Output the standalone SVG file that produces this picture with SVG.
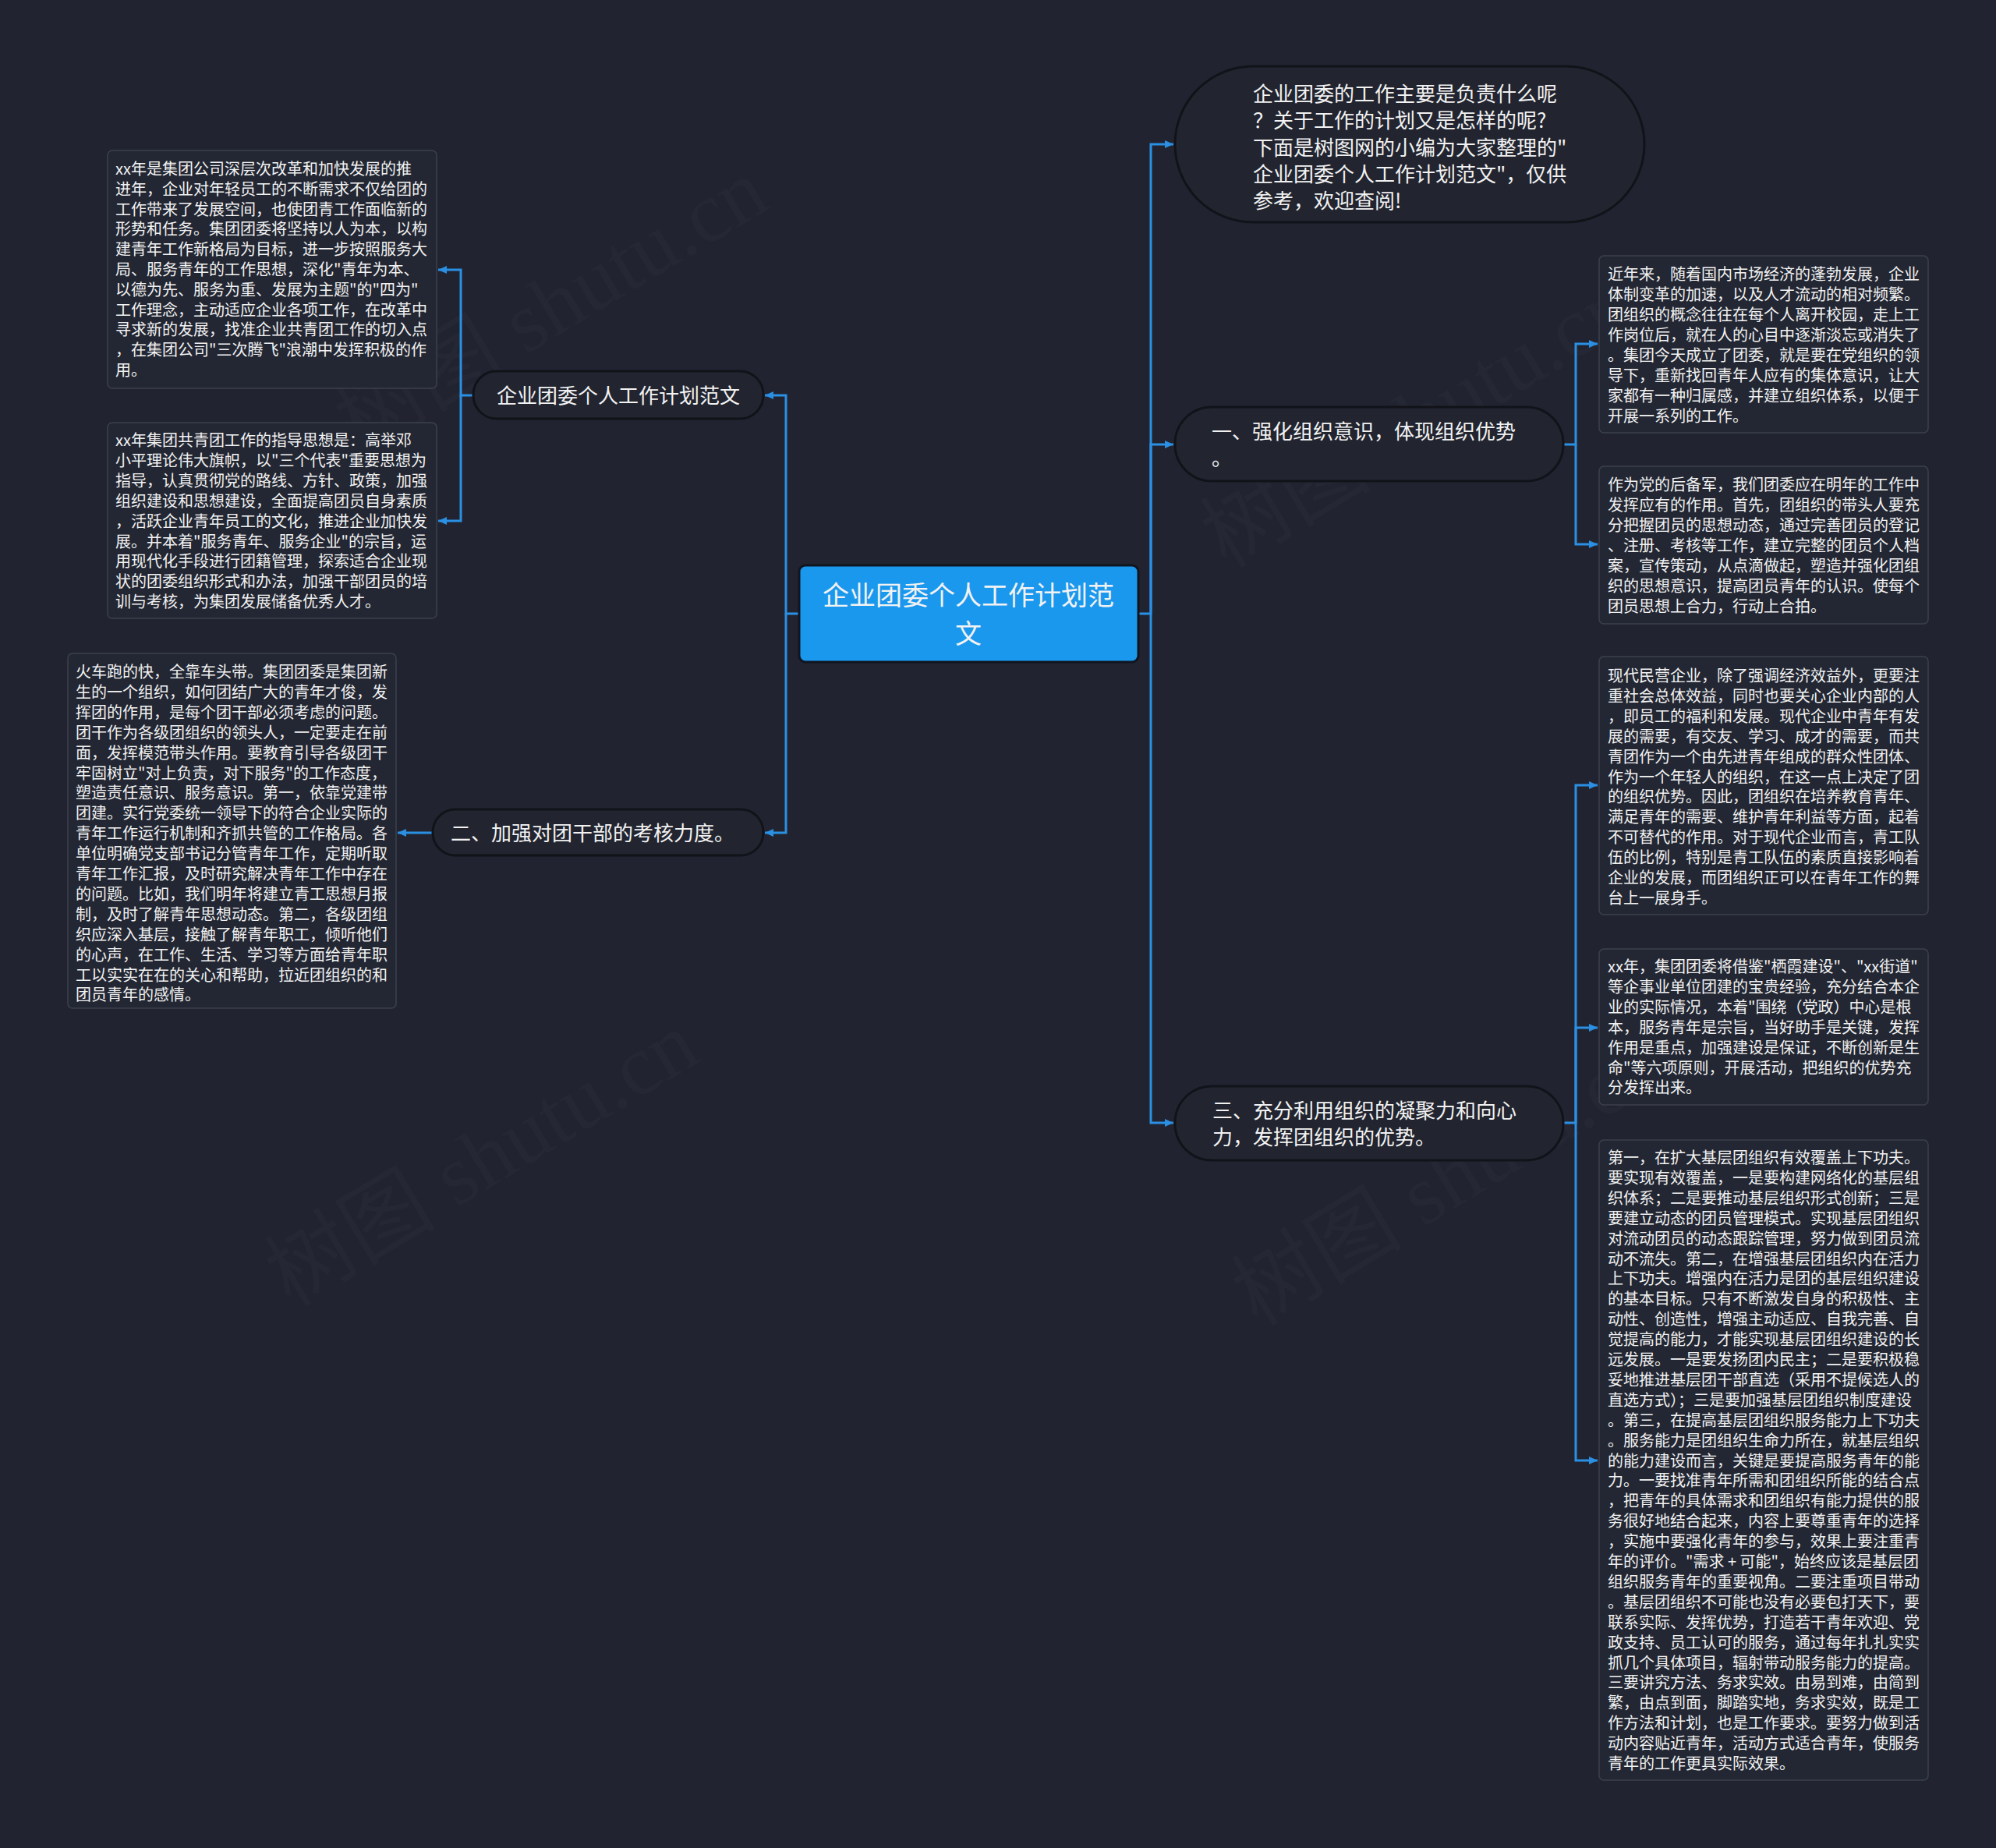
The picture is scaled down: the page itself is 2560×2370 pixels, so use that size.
<svg xmlns="http://www.w3.org/2000/svg" width="2560" height="2370" viewBox="0 0 2560 2370">
<defs>
<style>
.bg{fill:#212430}
.box{fill:#232733;stroke:#3c404c;stroke-width:1.5}
.pill{fill:#222530;stroke:#111319;stroke-width:3}
.root{fill:#1a98ee;stroke:#10151f;stroke-width:3}
.t{font-family:"Noto Sans CJK SC","Liberation Sans",sans-serif;fill:#f2f2f2}
.s{font-size:20px}
.m{font-size:26px}
.r{font-size:34px}
.conn path{fill:none;stroke:#2b8fe3;stroke-width:3}
.wm{font-family:"Liberation Serif","Noto Sans CJK SC",serif;font-size:110px;fill:#ffffff;fill-opacity:0.018}
</style>
<marker id="ah" markerWidth="12" markerHeight="12" refX="11" refY="6" orient="auto" markerUnits="userSpaceOnUse">
<path d="M0,1 L11,6 L0,11 z" fill="#2b8fe3"/>
</marker>
</defs>
<rect class="bg" x="0" y="0" width="2560" height="2370"/>

<g id="watermarks">
<text class="wm" transform="translate(726,424) rotate(-31)" text-anchor="middle">树图 shutu.cn</text>
<text class="wm" transform="translate(637,1518) rotate(-31)" text-anchor="middle">树图 shutu.cn</text>
<text class="wm" transform="translate(1837,571) rotate(-31)" text-anchor="middle">树图 shutu.cn</text>
<text class="wm" transform="translate(1877,1543) rotate(-31)" text-anchor="middle">树图 shutu.cn</text>
</g>

<g id="connectors" class="conn">
<path d="M1460,787 H1476 V185 H1505" marker-end="url(#ah)"/>
<path d="M1476,787 V570 H1505" marker-end="url(#ah)"/>
<path d="M1476,787 V1440 H1505" marker-end="url(#ah)"/>
<path d="M1025,787 H1008 V507 H981" marker-end="url(#ah)"/>
<path d="M1008,787 V1068 H981" marker-end="url(#ah)"/>
<path d="M607,507 H591 V346 H562" marker-end="url(#ah)"/>
<path d="M591,507 V668 H562" marker-end="url(#ah)"/>
<path d="M555,1068 H510" marker-end="url(#ah)"/>
<path d="M2005,570 H2021 V441 H2049" marker-end="url(#ah)"/>
<path d="M2021,570 V698 H2049" marker-end="url(#ah)"/>
<path d="M2005,1440 H2021 V1007 H2049" marker-end="url(#ah)"/>
<path d="M2021,1440 V1318 H2049" marker-end="url(#ah)"/>
<path d="M2021,1440 V1873 H2049" marker-end="url(#ah)"/>
</g>

<g id="root">
<rect class="root" x="1025" y="725" width="435" height="124" rx="8"/>
<text class="t r" text-anchor="middle"><tspan x="1242" y="776">企业团委个人工作计划范</tspan><tspan x="1242" y="825">文</tspan></text>
</g>

<g id="intro">
<rect class="pill" x="1507" y="85" width="602" height="200" rx="100"/>
<text class="t m"><tspan x="1607" y="130">企业团委的工作主要是负责什么呢</tspan><tspan x="1607" y="164.3">？关于工作的计划又是怎样的呢?</tspan><tspan x="1607" y="198.6">下面是树图网的小编为大家整理的"</tspan><tspan x="1607" y="232.9">企业团委个人工作计划范文"，仅供</tspan><tspan x="1607" y="267.2">参考，欢迎查阅!</tspan></text>
</g>

<g id="n1">
<rect class="pill" x="1507" y="522" width="498" height="95" rx="47"/>
<text class="t m"><tspan x="1554" y="563">一、强化组织意识，体现组织优势</tspan><tspan x="1554" y="597">。</tspan></text>
</g>

<g id="n3">
<rect class="pill" x="1507" y="1393" width="498" height="95" rx="47"/>
<text class="t m"><tspan x="1555" y="1434">三、充分利用组织的凝聚力和向心</tspan><tspan x="1555" y="1468">力，发挥团组织的优势。</tspan></text>
</g>

<g id="nL1">
<rect class="pill" x="607" y="476" width="372" height="61" rx="30"/>
<text class="t m" x="793" y="517" text-anchor="middle">企业团委个人工作计划范文</text>
</g>

<g id="n2">
<rect class="pill" x="555" y="1038" width="424" height="59" rx="29"/>
<text class="t m" x="760" y="1078" text-anchor="middle">二、加强对团干部的考核力度。</text>
</g>

<g id="boxL1">
<rect class="box" x="138" y="193" width="422" height="305" rx="6"/>
<text class="t s"><tspan x="148" y="224">xx年是集团公司深层次改革和加快发展的推</tspan><tspan x="148" dy="25.8">进年，企业对年轻员工的不断需求不仅给团的</tspan><tspan x="148" dy="25.8">工作带来了发展空间，也使团青工作面临新的</tspan><tspan x="148" dy="25.8">形势和任务。集团团委将坚持以人为本，以构</tspan><tspan x="148" dy="25.8">建青年工作新格局为目标，进一步按照服务大</tspan><tspan x="148" dy="25.8">局、服务青年的工作思想，深化"青年为本、</tspan><tspan x="148" dy="25.8">以德为先、服务为重、发展为主题"的"四为"</tspan><tspan x="148" dy="25.8">工作理念，主动适应企业各项工作，在改革中</tspan><tspan x="148" dy="25.8">寻求新的发展，找准企业共青团工作的切入点</tspan><tspan x="148" dy="25.8">，在集团公司"三次腾飞"浪潮中发挥积极的作</tspan><tspan x="148" dy="25.8">用。</tspan></text>
</g>

<g id="boxL2">
<rect class="box" x="138" y="542" width="422" height="251" rx="6"/>
<text class="t s"><tspan x="148" y="572">xx年集团共青团工作的指导思想是：高举邓</tspan><tspan x="148" dy="25.9">小平理论伟大旗帜，以"三个代表"重要思想为</tspan><tspan x="148" dy="25.9">指导，认真贯彻党的路线、方针、政策，加强</tspan><tspan x="148" dy="25.9">组织建设和思想建设，全面提高团员自身素质</tspan><tspan x="148" dy="25.9">，活跃企业青年员工的文化，推进企业加快发</tspan><tspan x="148" dy="25.9">展。并本着"服务青年、服务企业"的宗旨，运</tspan><tspan x="148" dy="25.9">用现代化手段进行团籍管理，探索适合企业现</tspan><tspan x="148" dy="25.9">状的团委组织形式和办法，加强干部团员的培</tspan><tspan x="148" dy="25.9">训与考核，为集团发展储备优秀人才。</tspan></text>
</g>

<g id="boxL3">
<rect class="box" x="87" y="838" width="421" height="455" rx="6"/>
<text class="t s"><tspan x="97" y="869">火车跑的快，全靠车头带。集团团委是集团新</tspan><tspan x="97" dy="25.9">生的一个组织，如何团结广大的青年才俊，发</tspan><tspan x="97" dy="25.9">挥团的作用，是每个团干部必须考虑的问题。</tspan><tspan x="97" dy="25.9">团干作为各级团组织的领头人，一定要走在前</tspan><tspan x="97" dy="25.9">面，发挥模范带头作用。要教育引导各级团干</tspan><tspan x="97" dy="25.9">牢固树立"对上负责，对下服务"的工作态度，</tspan><tspan x="97" dy="25.9">塑造责任意识、服务意识。第一，依靠党建带</tspan><tspan x="97" dy="25.9">团建。实行党委统一领导下的符合企业实际的</tspan><tspan x="97" dy="25.9">青年工作运行机制和齐抓共管的工作格局。各</tspan><tspan x="97" dy="25.9">单位明确党支部书记分管青年工作，定期听取</tspan><tspan x="97" dy="25.9">青年工作汇报，及时研究解决青年工作中存在</tspan><tspan x="97" dy="25.9">的问题。比如，我们明年将建立青工思想月报</tspan><tspan x="97" dy="25.9">制，及时了解青年思想动态。第二，各级团组</tspan><tspan x="97" dy="25.9">织应深入基层，接触了解青年职工，倾听他们</tspan><tspan x="97" dy="25.9">的心声，在工作、生活、学习等方面给青年职</tspan><tspan x="97" dy="25.9">工以实实在在的关心和帮助，拉近团组织的和</tspan><tspan x="97" dy="25.9">团员青年的感情。</tspan></text>
</g>

<g id="boxA">
<rect class="box" x="2051" y="328" width="422" height="227" rx="6"/>
<text class="t s"><tspan x="2062" y="359">近年来，随着国内市场经济的蓬勃发展，企业</tspan><tspan x="2062" dy="26">体制变革的加速，以及人才流动的相对频繁。</tspan><tspan x="2062" dy="26">团组织的概念往往在每个人离开校园，走上工</tspan><tspan x="2062" dy="26">作岗位后，就在人的心目中逐渐淡忘或消失了</tspan><tspan x="2062" dy="26">。集团今天成立了团委，就是要在党组织的领</tspan><tspan x="2062" dy="26">导下，重新找回青年人应有的集体意识，让大</tspan><tspan x="2062" dy="26">家都有一种归属感，并建立组织体系，以便于</tspan><tspan x="2062" dy="26">开展一系列的工作。</tspan></text>
</g>

<g id="boxB">
<rect class="box" x="2051" y="598" width="422" height="202" rx="6"/>
<text class="t s"><tspan x="2062" y="629">作为党的后备军，我们团委应在明年的工作中</tspan><tspan x="2062" dy="26">发挥应有的作用。首先，团组织的带头人要充</tspan><tspan x="2062" dy="26">分把握团员的思想动态，通过完善团员的登记</tspan><tspan x="2062" dy="26">、注册、考核等工作，建立完整的团员个人档</tspan><tspan x="2062" dy="26">案，宣传策动，从点滴做起，塑造并强化团组</tspan><tspan x="2062" dy="26">织的思想意识，提高团员青年的认识。使每个</tspan><tspan x="2062" dy="26">团员思想上合力，行动上合拍。</tspan></text>
</g>

<g id="boxC">
<rect class="box" x="2051" y="842" width="422" height="331" rx="6"/>
<text class="t s"><tspan x="2062" y="874">现代民营企业，除了强调经济效益外，更要注</tspan><tspan x="2062" dy="25.9">重社会总体效益，同时也要关心企业内部的人</tspan><tspan x="2062" dy="25.9">，即员工的福利和发展。现代企业中青年有发</tspan><tspan x="2062" dy="25.9">展的需要，有交友、学习、成才的需要，而共</tspan><tspan x="2062" dy="25.9">青团作为一个由先进青年组成的群众性团体、</tspan><tspan x="2062" dy="25.9">作为一个年轻人的组织，在这一点上决定了团</tspan><tspan x="2062" dy="25.9">的组织优势。因此，团组织在培养教育青年、</tspan><tspan x="2062" dy="25.9">满足青年的需要、维护青年利益等方面，起着</tspan><tspan x="2062" dy="25.9">不可替代的作用。对于现代企业而言，青工队</tspan><tspan x="2062" dy="25.9">伍的比例，特别是青工队伍的素质直接影响着</tspan><tspan x="2062" dy="25.9">企业的发展，而团组织正可以在青年工作的舞</tspan><tspan x="2062" dy="25.9">台上一展身手。</tspan></text>
</g>

<g id="boxD">
<rect class="box" x="2051" y="1217" width="422" height="200" rx="6"/>
<text class="t s"><tspan x="2062" y="1247">xx年，集团团委将借鉴"栖霞建设"、"xx街道"</tspan><tspan x="2062" dy="25.9">等企事业单位团建的宝贵经验，充分结合本企</tspan><tspan x="2062" dy="25.9">业的实际情况，本着"围绕（党政）中心是根</tspan><tspan x="2062" dy="25.9">本，服务青年是宗旨，当好助手是关键，发挥</tspan><tspan x="2062" dy="25.9">作用是重点，加强建设是保证，不断创新是生</tspan><tspan x="2062" dy="25.9">命"等六项原则，开展活动，把组织的优势充</tspan><tspan x="2062" dy="25.9">分发挥出来。</tspan></text>
</g>

<g id="boxE">
<rect class="box" x="2051" y="1462" width="422" height="821" rx="6"/>
<text class="t s"><tspan x="2062" y="1492">第一，在扩大基层团组织有效覆盖上下功夫。</tspan><tspan x="2062" dy="25.9">要实现有效覆盖，一是要构建网络化的基层组</tspan><tspan x="2062" dy="25.9">织体系；二是要推动基层组织形式创新；三是</tspan><tspan x="2062" dy="25.9">要建立动态的团员管理模式。实现基层团组织</tspan><tspan x="2062" dy="25.9">对流动团员的动态跟踪管理，努力做到团员流</tspan><tspan x="2062" dy="25.9">动不流失。第二，在增强基层团组织内在活力</tspan><tspan x="2062" dy="25.9">上下功夫。增强内在活力是团的基层组织建设</tspan><tspan x="2062" dy="25.9">的基本目标。只有不断激发自身的积极性、主</tspan><tspan x="2062" dy="25.9">动性、创造性，增强主动适应、自我完善、自</tspan><tspan x="2062" dy="25.9">觉提高的能力，才能实现基层团组织建设的长</tspan><tspan x="2062" dy="25.9">远发展。一是要发扬团内民主；二是要积极稳</tspan><tspan x="2062" dy="25.9">妥地推进基层团干部直选（采用不提候选人的</tspan><tspan x="2062" dy="25.9">直选方式）；三是要加强基层团组织制度建设</tspan><tspan x="2062" dy="25.9">。第三，在提高基层团组织服务能力上下功夫</tspan><tspan x="2062" dy="25.9">。服务能力是团组织生命力所在，就基层组织</tspan><tspan x="2062" dy="25.9">的能力建设而言，关键是要提高服务青年的能</tspan><tspan x="2062" dy="25.9">力。一要找准青年所需和团组织所能的结合点</tspan><tspan x="2062" dy="25.9">，把青年的具体需求和团组织有能力提供的服</tspan><tspan x="2062" dy="25.9">务很好地结合起来，内容上要尊重青年的选择</tspan><tspan x="2062" dy="25.9">，实施中要强化青年的参与，效果上要注重青</tspan><tspan x="2062" dy="25.9">年的评价。"需求 + 可能"，始终应该是基层团</tspan><tspan x="2062" dy="25.9">组织服务青年的重要视角。二要注重项目带动</tspan><tspan x="2062" dy="25.9">。基层团组织不可能也没有必要包打天下，要</tspan><tspan x="2062" dy="25.9">联系实际、发挥优势，打造若干青年欢迎、党</tspan><tspan x="2062" dy="25.9">政支持、员工认可的服务，通过每年扎扎实实</tspan><tspan x="2062" dy="25.9">抓几个具体项目，辐射带动服务能力的提高。</tspan><tspan x="2062" dy="25.9">三要讲究方法、务求实效。由易到难，由简到</tspan><tspan x="2062" dy="25.9">繁，由点到面，脚踏实地，务求实效，既是工</tspan><tspan x="2062" dy="25.9">作方法和计划，也是工作要求。要努力做到活</tspan><tspan x="2062" dy="25.9">动内容贴近青年，活动方式适合青年，使服务</tspan><tspan x="2062" dy="25.9">青年的工作更具实际效果。</tspan></text>
</g>
</svg>
